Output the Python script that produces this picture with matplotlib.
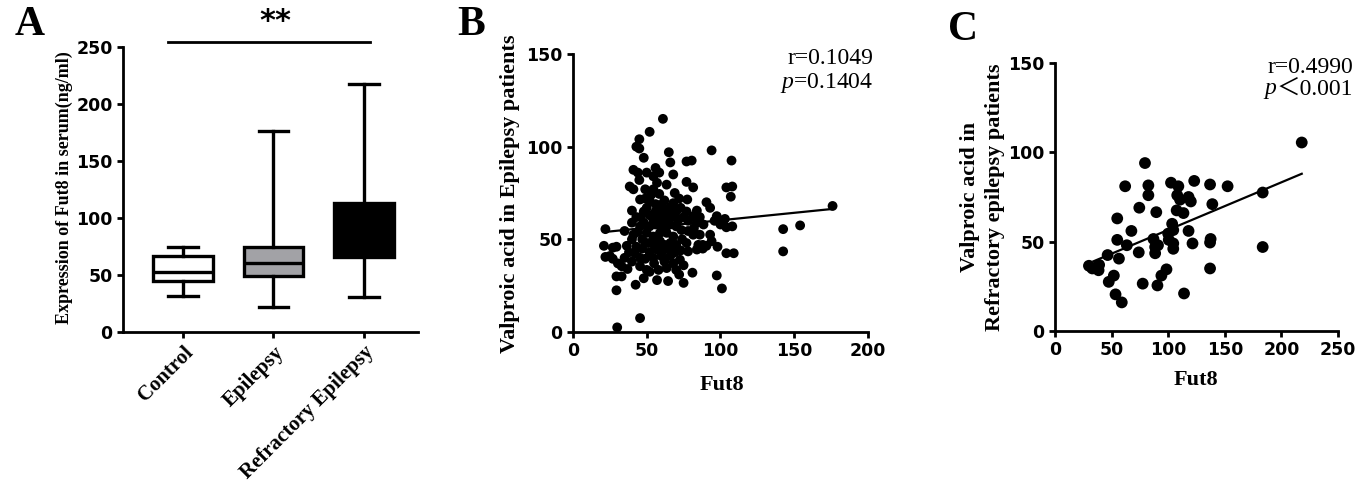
import numpy as np
import matplotlib.pyplot as plt

# panel A: box summaries
groups = ["Control", "Epilepsy", "Refractory Epilepsy"]
whis_low = [31.6, 21.9, 30.7]
q1 = [44.4, 48.8, 65.8]
medians = [52.6, 60.8, 90.0]
q3 = [66.7, 74.6, 113.5]
whis_high = [74.6, 176.0, 217.8]
box_colors = ["white", "#a2a2a6", "black"]

# panel B: Fut8 vs valproic acid, epilepsy patients
b_x = [61, 52, 45, 43, 45, 48, 65, 66, 94, 107.5, 77, 80.5, 41, 44, 50, 54.5, 45, 56, 58.5, 68,
       57, 63.5, 38.5, 41, 77, 81.5, 54.5, 58.5, 69, 77.5, 104, 108, 107, 45.5, 49, 52, 40, 50, 59, 61,
       66, 68, 77, 84, 90.5, 93, 97.5, 100, 104, 40, 45.5, 35, 22, 54.5, 63.5, 68, 71.5, 81.5, 84, 88.5,
       73.5, 78, 81.5, 93, 94, 90.5, 86, 50, 54.5, 59, 63.5, 68, 41, 40, 36.5, 21, 27, 29.5, 22, 27,
       30.5, 33, 29.5, 33, 29.5, 42.5, 45.5, 30, 42, 45.5, 49, 45.5, 50, 54.5, 60, 66, 72.5, 52, 58, 63.5,
       70, 64.5, 75, 81, 97.5, 101, 104, 109, 142.5, 142.5, 154, 176, 78, 84, 46, 48, 52, 56, 58, 61,
       64, 67, 70, 73, 75, 78, 48, 52, 56, 60, 63, 66, 70, 44, 47, 51, 55, 59, 62, 66,
       70, 74, 77, 43, 47, 52, 57, 61, 65, 69, 73, 38, 35, 40, 55, 62, 68, 75, 85, 88,
       98, 100, 96, 62, 72, 56, 60, 82, 86, 43, 108, 103, 25, 37, 48, 57, 72, 88, 53, 49]
b_y = [115, 108, 104, 100, 99, 94, 97, 91.5, 98, 92.5, 92, 92.5, 87.5, 86, 86, 84, 82, 88.5, 86, 85,
       80.5, 79.5, 78.5, 77, 81, 78, 77, 74.5, 75, 71.5, 78, 78.5, 73, 71.5, 72, 70.5, 65.5, 67, 68.5, 67,
       67.5, 69.5, 65, 65.5, 70, 67, 62.5, 60, 56.5, 59, 57, 54.5, 55.5, 60.5, 60.5, 62.5, 60.5, 62.5, 59, 58,
       55, 54.5, 52.5, 52.5, 49, 46.5, 52.5, 53.5, 51.5, 53.5, 53.5, 51.5, 52.5, 50, 46.5, 46.5, 45.5, 46, 40.5, 39.5,
       37, 35.5, 30, 30, 22.5, 25.5, 7.5, 2.5, 42.5, 40, 39.5, 35.5, 33.5, 40, 41, 41, 39, 32.5, 33.5, 34.5,
       33.5, 27.5, 26.5, 32, 30.5, 23.5, 42.5, 42.5, 43.5, 55.5, 57.5, 68, 43.5, 44.5, 62, 65, 63, 65, 62, 63.5,
       64, 64, 65, 67, 62, 60, 59, 57, 58, 57, 56.5, 58, 57, 54, 50, 48, 47, 49, 47, 48,
       47, 50, 48, 46, 45, 43, 44.5, 44, 45, 43, 44, 43, 40, 38, 37, 38, 37, 36, 47, 45,
       46, 58, 60, 71, 72, 69, 60, 56, 62, 62, 57, 61, 41, 34, 29, 28, 31, 47, 74, 77]
b_fit_x = [22, 176]
b_fit_y = [54, 66.4]

# panel C: refractory epilepsy patients
c_x = [30, 33, 39, 38.5, 46.5, 47.5, 52, 53.5, 59, 55, 55, 56.5, 62, 63.5, 67.5, 74, 74.5, 77.5, 79.5, 82.5,
       82.5, 89.5, 87, 88.5, 88.5, 91, 90.5, 94, 98.5, 100, 100.5, 102.5, 103.5, 104.5, 104.5, 104.5, 109, 108,
       107.5, 110.5, 113.5, 114, 118, 120, 118, 121.5, 123, 137, 139, 137.5, 137, 137, 152.5, 183.5, 183.5, 218]
c_y = [36.5, 35, 37, 34, 42.5, 27.5, 31, 20.5, 16, 63, 51, 40.5, 81, 48, 56, 44, 69, 26.5, 94, 81.5,
       76, 66.5, 51.5, 47, 43.5, 48, 25.5, 31, 34.5, 54.5, 51, 83, 60, 56.5, 49, 46, 81, 76,
       67.5, 73.5, 66, 21, 75, 72.5, 56, 49, 84, 82, 71, 51.5, 49.5, 35, 81, 77.5, 47, 105.5]
c_fit_x = [34, 218]
c_fit_y = [39, 88]

serif = "Liberation Serif"
sans = "DejaVu Sans"
plt.rcParams["font.family"] = serif
plt.rcParams["axes.linewidth"] = 2.0
plt.rcParams["mathtext.fontset"] = "custom"
plt.rcParams["mathtext.rm"] = serif
plt.rcParams["mathtext.it"] = serif + ":italic"

fig = plt.figure(figsize=(13.71, 4.82), dpi=100)
axA = fig.add_axes([0.0897, 0.3112, 0.2152, 0.5913])
axB = fig.add_axes([0.4179, 0.3112, 0.2152, 0.5768])
axC = fig.add_axes([0.7695, 0.3133, 0.2064, 0.5560])


def style(ax):
    for s in ["top", "right"]:
        ax.spines[s].set_visible(False)
    ax.tick_params(direction="out", length=4, width=2)
    for lab in ax.get_yticklabels() + ax.get_xticklabels():
        lab.set_fontfamily(sans)
        lab.set_fontweight("bold")
        lab.set_fontsize(12.5)


# A
stats = []
for i in range(3):
    stats.append({"whislo": whis_low[i], "q1": q1[i], "med": medians[i],
                  "q3": q3[i], "whishi": whis_high[i], "fliers": []})
bp = axA.bxp(stats, positions=[0, 1, 2], widths=0.66, capwidths=0.33, patch_artist=True,
             showfliers=False,
             boxprops=dict(linewidth=2.4, edgecolor="black"),
             whiskerprops=dict(linewidth=2.4, color="black"),
             capprops=dict(linewidth=2.4, color="black"),
             medianprops=dict(linewidth=2.4, color="black"))
for patch, c in zip(bp["boxes"], box_colors):
    patch.set_facecolor(c)
axA.set_xlim(-0.663, 2.597)
axA.set_ylim(0, 250)
axA.set_yticks([0, 50, 100, 150, 200, 250])
axA.set_xticks([0, 1, 2])
style(axA)
axA.set_xticklabels(groups, rotation=45, ha="right", rotation_mode="anchor",
                    fontfamily=serif, fontweight="bold", fontsize=15)
axA.set_ylabel("Expression of Fut8 in serum(ng/ml)", fontweight="bold", fontsize=13)
axA.yaxis.set_label_coords(-0.17, 0.505)
axA.plot([-0.166, 2.07], [254.4, 254.4], color="black", lw=2, clip_on=False)
axA.text(1.02, 272, "**", ha="center", va="center",
         fontsize=22, fontweight="bold", fontfamily=sans)

# B
axB.scatter(b_x, b_y, s=50, color="black", edgecolors="none", zorder=3)
axB.plot(b_fit_x, b_fit_y, color="black", lw=1.6, zorder=4)
axB.set_xlim(0, 200)
axB.set_ylim(0, 150)
axB.set_xticks([0, 50, 100, 150, 200])
axB.set_yticks([0, 50, 100, 150])
style(axB)
axB.set_xlabel("Fut8", fontweight="bold", fontsize=16)
axB.xaxis.set_label_coords(0.505, -0.155)
axB.xaxis.label.set_va("top")
axB.set_ylabel("Valproic acid in Epilepsy patients", fontweight="bold", fontsize=16)
axB.yaxis.set_label_coords(-0.18, 0.496)
axB.text(1.017, 0.982, "r=0.1049", transform=axB.transAxes, ha="right", va="center", fontsize=17)
axB.text(1.017, 0.896, "$\\it{p}$=0.1404", transform=axB.transAxes, ha="right", va="center", fontsize=17)

# C
axC.scatter(c_x, c_y, s=72, color="black", edgecolors="none", zorder=3)
axC.plot(c_fit_x, c_fit_y, color="black", lw=1.6, zorder=4)
axC.set_xlim(0, 250)
axC.set_ylim(0, 150)
axC.set_xticks([0, 50, 100, 150, 200, 250])
axC.set_yticks([0, 50, 100, 150])
style(axC)
axC.set_xlabel("Fut8", fontweight="bold", fontsize=16)
axC.xaxis.set_label_coords(0.498, -0.146)
axC.xaxis.label.set_va("top")
axC.set_ylabel("Valproic acid in\nRefractory epilepsy patients", fontweight="bold", fontsize=16,
               linespacing=1.3)
axC.yaxis.set_label_coords(-0.177, 0.5)
axC.text(1.053, 0.985, "r=0.4990", transform=axC.transAxes, ha="right", va="center", fontsize=17)
p_rest = axC.text(1.053, 0.903, "\uff1c0.001", transform=axC.transAxes, ha="right", va="center",
                  fontsize=17, family=[serif, "Noto Sans CJK SC"])
fig.canvas.draw()
bb = p_rest.get_window_extent()
x_left = axC.transAxes.inverted().transform((bb.x0, bb.y0))[0]
axC.text(x_left, 0.903, "p", transform=axC.transAxes, ha="right", va="center",
         fontsize=17, style="italic")

fig.text(0.0219, 0.948, "A", fontsize=30, fontweight="bold", ha="center", va="center")
fig.text(471 / 1371, 1 - 25 / 482, "B", fontsize=30, fontweight="bold", ha="center", va="center")
fig.text(963 / 1371, 1 - 30 / 482, "C", fontsize=30, fontweight="bold", ha="center", va="center")

fig.savefig("out.png", dpi=100)
